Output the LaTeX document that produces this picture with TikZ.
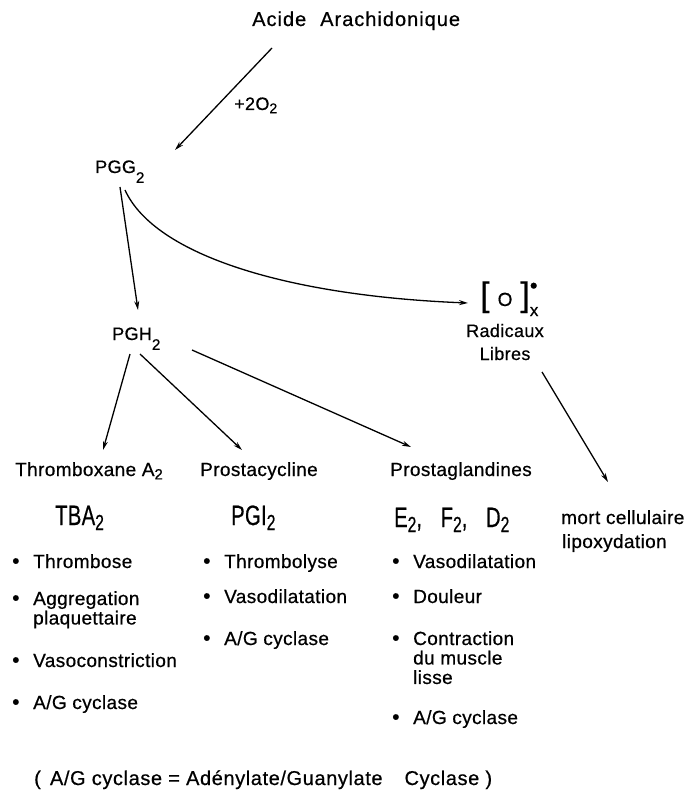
\documentclass[tikz,border=0pt]{standalone}
\usepackage{fontspec}
\setmainfont[LetterSpace=2,FakeBold=0.6]{Liberation Sans}
\usetikzlibrary{arrows.meta,calc}
\newcommand\dna[1]{\raisebox{-0.55em}{\scalebox{0.85}{#1}}}
\newcommand\dnb[1]{\raisebox{-0.18em}{\scalebox{0.78}{#1}}}
\newcommand\fs[1]{\fontsize{#1}{#1}\selectfont}
\newcommand\bul{\makebox[21pt][l]{\fs{21}•}}
\begin{document}
\begin{tikzpicture}[x=1pt,y=-1pt,
  txt/.style={anchor=base west, inner sep=0pt, font={\fs{19}}},
  ctr/.style={anchor=base, inner sep=0pt, font={\fs{18}}},
  arr/.style={draw, line width=1.3pt, -{Stealth[length=9pt,width=5pt]}}]
\useasboundingbox (0,0) rectangle (698,799);
% titles
\node[txt, font={\fs{20}\addfontfeature{LetterSpace=5}}] (acide) at (252,26) {Acide\hspace{14pt}Arachidonique};
\node[txt, font={\fs{18}}] (o2) at (234,110) {+2O\dnb{2}};
\node[txt, font={\fs{18}}] (pgg) at (95,173) {PGG\dna{2}};
\node[txt, font={\fs{18}}] (pgh) at (112,340) {PGH\dna{2}};
\node[txt] (rad) at (480,306) {{\fs{34}[}\hspace{8pt}{\fs{19}O}\hspace{8pt}{\fs{34}]}\rlap{\raisebox{-10pt}{\fs{17}x}}\rlap{\raisebox{13pt}{\fs{22}•}}};
\node[ctr] (radl) at (505,337) {Radicaux};
\node[ctr] (lib) at (505,360) {Libres};
\node[txt] (thx) at (15,476) {Thromboxane A\dnb{2}};
\node[txt] (pcy) at (200,476) {Prostacycline};
\node[txt] (pgl) at (390,476) {Prostaglandines};
\node[txt, font={\fs{28}}] (tba) at (55,525) {\scalebox{0.72}[1]{TBA\dnb{2}}};
\node[txt, font={\fs{28}}] (pgi) at (231,525) {\scalebox{0.72}[1]{PGI\dnb{2}}};
\node[txt, font={\fs{28}}] (efd) at (394,527) {\scalebox{0.72}[1]{E\dnb{2},\hspace{26pt}F\dnb{2},\hspace{26pt}D\dnb{2}}};
\node[txt] (mort) at (561,524) {mort cellulaire};
\node[txt] (lipo) at (562,548) {lipoxydation};
% TBA2 column
\node[txt] (t1) at (12,568) {\bul Thrombose};
\node[txt] (t2) at (12,605) {\begin{tabular}[t]{@{}l@{}l@{}}\bul&Aggregation\\&plaquettaire\end{tabular}};
\node[txt] (t3) at (12,667) {\bul Vasoconstriction};
\node[txt] (t4) at (12,709) {\bul A/G cyclase};
% PGI2 column
\node[txt] (p1) at (203,568) {\bul Thrombolyse};
\node[txt] (p2) at (203,603) {\bul Vasodilatation};
\node[txt] (p3) at (203,645) {\bul A/G cyclase};
% E2 column
\node[txt] (e1) at (392,568) {\bul Vasodilatation};
\node[txt] (e2) at (392,603) {\bul Douleur};
\node[txt] (e3) at (392,645) {\begin{tabular}[t]{@{}l@{}l@{}}\bul&Contraction\\&du muscle\\&lisse\end{tabular}};
\node[txt] (e4) at (392,724) {\bul A/G cyclase};
% note
\node[txt, font={\fs{20}\addfontfeature{LetterSpace=3}}] (note) at (34,785) {(\hspace{3pt} A/G cyclase = Adénylate/Guanylate\hspace{22pt}Cyclase )};
% connectors
\draw[arr] ($(acide.base west)+(20,22)$) -- ($(pgg.base west)+(80,-23)$);
\draw[arr] ($(pgg.base west)+(25,14)$) -- ($(pgh.base west)+(26,-30)$);
\draw[arr] ($(pgg.base west)+(30,17)$) .. controls ($(pgg.base west)+(60,83)$) and ($(rad.base west)+(-190,-10)$) .. ($(rad.base west)+(-12,-3)$);
\draw[arr] ($(pgh.base west)+(18,14)$) -- ($(thx.base west)+(88,-26)$);
\draw[arr] ($(pgh.base west)+(28,14)$) -- ($(pcy.base west)+(42,-26)$);
\draw[arr] ($(pgh.base west)+(80,10)$) -- ($(pgl.base west)+(21,-29)$);
\draw[arr] ($(lib.base)+(37,12)$) -- ($(mort.base west)+(47,-42)$);
\end{tikzpicture}
\end{document}
